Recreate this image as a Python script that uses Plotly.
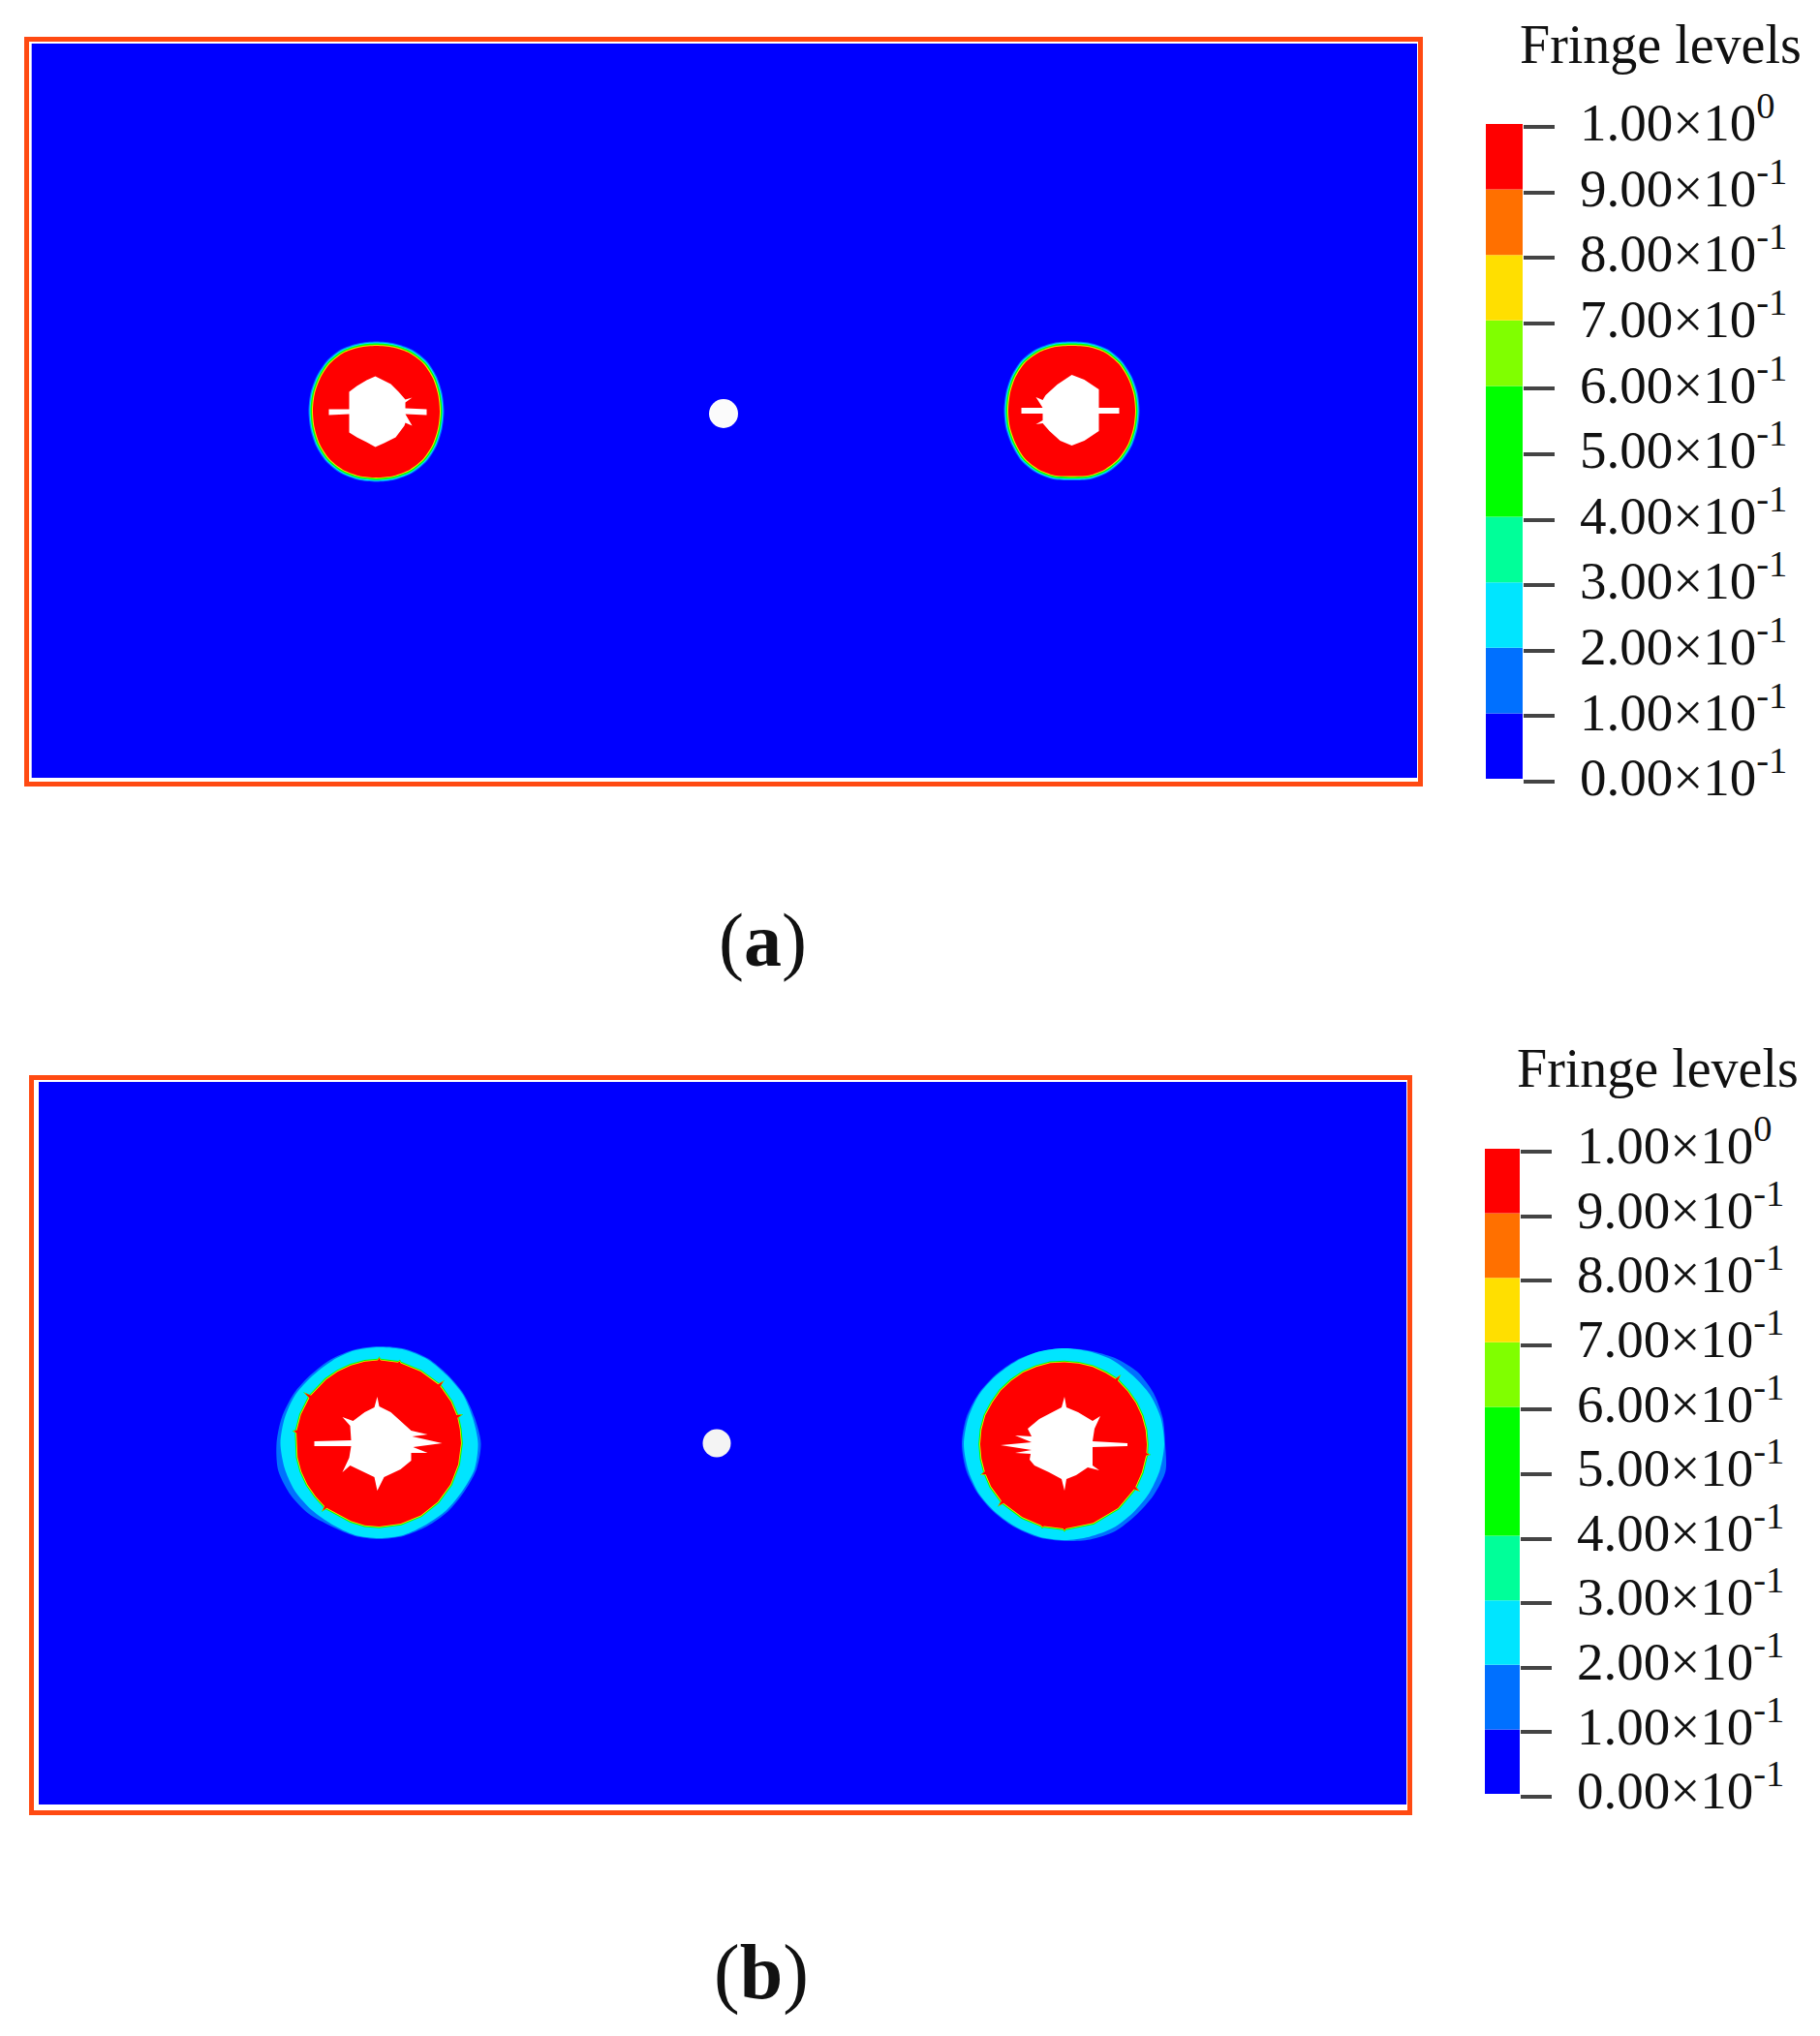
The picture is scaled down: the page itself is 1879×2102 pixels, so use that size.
import math
import plotly.graph_objects as go

W, H = 1879, 2102

# ---------- legend data ----------
levels = [0.0, 0.1, 0.2, 0.3, 0.4, 0.5, 0.6, 0.7, 0.8, 0.9, 1.0]
level_labels = ["0.00×10<sup>-1</sup>", "1.00×10<sup>-1</sup>", "2.00×10<sup>-1</sup>", "3.00×10<sup>-1</sup>",
                "4.00×10<sup>-1</sup>", "5.00×10<sup>-1</sup>", "6.00×10<sup>-1</sup>", "7.00×10<sup>-1</sup>",
                "8.00×10<sup>-1</sup>", "9.00×10<sup>-1</sup>", "1.00×10<sup>0</sup>"]
band_colors = ["#0000ff", "#0070ff", "#00e5ff", "#00ff99", "#00ff00", "#00ff00", "#80ff00", "#ffdf00", "#ff7000", "#ff0000"]

# ---------- ring shapes (polar, image-scale units) ----------
angles_15 = [0, 15, 30, 45, 60, 75, 90, 105, 120, 135, 150, 165, 180, 195, 210, 225, 240, 255, 270, 285, 300, 315, 330, 345]

a_left_centre = (388.5, 424.5)
a_left_red = [65.5, 66, 67.5, 69, 69, 68, 67.5, 68, 69, 68.5, 67, 66, 65.5, 66, 67.5, 69, 69.5, 69, 68.5, 69, 69.5, 69, 67.5, 66]
a_right_centre = (1106.5, 424)
a_right_red = [65.5, 66, 67, 68.5, 69, 68, 67, 68, 69, 69, 67.5, 66, 65.5, 66, 67, 69, 69.5, 69, 67.5, 69, 69.5, 69, 67.5, 66]
a_edge_steps = [4.5, 3.4, 2.4, 1.0]
a_edge_colors = ["#0070ff", "#00e5ff", "#00ff00", "#ffdf00"]

b_left_centre = (391.5, 1490)
b_left_lightblue = [105, 102, 101, 100, 101, 101, 100, 100, 100, 100, 102, 104, 106, 108, 106, 103, 99, 99, 99, 99, 99, 100, 101, 104]
b_left_cyan = [102, 100, 100, 99, 100, 100, 99, 99, 98, 98, 100, 101, 102, 101, 100, 98, 97, 98, 98, 98, 97, 98, 99, 102]
b_left_red_angles = [0, 10, 18, 19, 20, 30, 43, 44, 45, 60, 75, 76, 77, 89, 90, 91, 100, 110, 120, 130, 145, 146, 147, 160, 171, 172, 173, 190, 200, 210, 220, 229, 230, 231, 250, 260, 270, 285, 300, 315, 330, 345]
b_left_red = [84.5, 84.5, 85, 90, 85, 85.5, 86, 92, 86, 85.5, 85.5, 87, 85.5, 85.5, 88, 85.5, 85.5, 85.5, 85.5, 85.5, 86, 93, 86, 86, 86, 89, 86, 85.5, 85.5, 85.5, 85.5, 86, 91, 86, 85.5, 86, 86, 86, 86, 85.5, 85, 84.5]

b_right_centre = (1099, 1491)
b_right_lightblue = [104, 105, 106, 106, 103, 100, 99, 99, 100, 101, 103, 105, 106, 105, 103, 101, 100, 100, 100, 102, 104, 104, 106, 108]
b_right_cyan = [103, 103, 102, 100, 100, 99, 99, 99, 99, 100, 102, 103, 104, 103, 102, 100, 99, 99, 99, 99, 100, 100, 101, 102]
b_right_red_angles = [0, 10, 20, 30, 40, 50, 51, 52, 60, 70, 80, 90, 100, 110, 120, 130, 140, 150, 160, 170, 180, 190, 199, 200, 201, 210, 222, 223, 224, 240, 254, 255, 256, 269, 270, 271, 290, 310, 327, 328, 329, 340, 352, 353, 354]
b_right_red = [85, 85, 85, 85, 85, 85.5, 91, 85.5, 85, 85, 84.5, 84.5, 85, 85, 85.5, 85.5, 86, 86, 87, 87, 87, 87, 87, 91, 87, 87.5, 87.5, 93, 87.5, 87, 87, 88.5, 87, 87, 89, 87, 86.5, 86, 85.5, 90.5, 85.5, 85, 85, 88, 85]
b_edge_steps = [1.8, 0.8]
b_edge_colors = ["#00ff00", "#ffdf00"]

# ---------- damaged holes (offset from ring centre, y down) ----------
a_left_hole_dx = [-1, 7, 15, 23, 30, 37, 30, 30, 52, 52, 30, 37, 30, 29, 20, 8, -1, -10, -20, -28, -28, -49, -49, -28, -28, -20, -10]
a_left_hole_dy = [-36, -32, -28, -20, -12, -14, -9, -3, -2, 4, 3, 15, 12, 15, 27, 33, 37, 32, 27, 22, 3, 4, -2, -2, -20, -26, -32]
a_right_hole_dx = [0, 13, 28, 28, 49, 49, 28, 28, 13, 0, -12, -23, -30, -37, -30, -30, -52, -52, -30, -37, -30, -27, -15, -7]
a_right_hole_dy = [-37, -32, -22, -3, -3, 3, 3, 21, 31, 36, 31, 21, 13, 14, 10, 3, 3, -3, -3, -14, -11, -16, -27, -32]
b_left_hole_dx = [-2, 0, 12, 28, 33, 50, 34, 65, 35, 50, 33, 33, 22, 5, -2, -5, -15, -30, -38, -31, -29, -67, -67, -29, -30, -38, -27, -15, -5]
b_left_hole_dy = [-48, -38, -32, -18, -13, -9, -7, 0, 4, 10, 10, 18, 27, 35, 49, 35, 30, 23, 30, 15, 3, 3, -2, -3, -18, -27, -23, -32, -37]
b_right_hole_dx = [0, 2, 14, 29, 37, 31, 29, 65, 65, 29, 29, 36, 24, 12, 2, 0, -3, -16, -31, -36, -35, -51, -34, -66, -34, -51, -34, -38, -26, -13, -3]
b_right_hole_dy = [-49, -38, -33, -24, -29, -16, -3, -1, 2, 3, 22, 27, 24, 32, 36, 48, 36, 29, 22, 16, 10, 9, 6, 1, -2, -9, -8, -16, -26, -33, -38]

centre_hole_x = [747, 740]
centre_hole_y = [427, 1490]

FONT = "Liberation Serif"
FRAME = "#ff4a12"
BLUE = "#0000ff"
RED = "#ff0000"
WHITE = "#ffffff"
TEXT = "#111111"
fig = go.Figure()


def polar(centre, angles, radii, extra=0.0):
    xs = [centre[0] + (r + extra) * math.cos(math.radians(a)) for a, r in zip(angles, radii)]
    ys = [centre[1] - (r + extra) * math.sin(math.radians(a)) for a, r in zip(angles, radii)]
    return xs + xs[:1], ys + ys[:1]


def poly(xs, ys, color, ax, smooth=False):
    line = dict(width=0, color=color)
    if smooth:
        line.update(shape="spline", smoothing=0.8)
    fig.add_trace(go.Scatter(x=xs, y=ys, mode="lines", fill="toself", fillcolor=color,
                             line=line, hoverinfo="skip", showlegend=False,
                             xaxis="x" + ax, yaxis="y" + ax))


def hole(centre, dx, dy, ax):
    xs = [centre[0] + v for v in dx]
    ys = [centre[1] + v for v in dy]
    poly(xs + xs[:1], ys + ys[:1], WHITE, ax)


def xdom(a, b):
    return [a / W, b / W]


def ydom(top, bottom):
    return [1 - bottom / H, 1 - top / H]


layout = dict(width=W, height=H, autosize=False, margin=dict(l=0, r=0, t=0, b=0, pad=0),
              paper_bgcolor="white", plot_bgcolor="white", barmode="overlay", showlegend=False)


def map_axes(ax, left, right, top, bottom):
    common = dict(showgrid=False, zeroline=False, showticklabels=False, ticks="", automargin=False,
                  showline=True, mirror=True, linecolor=FRAME, linewidth=4.5)
    layout["xaxis" + ax] = dict(common, domain=xdom(left, right), range=[left, right], anchor="y" + ax)
    layout["yaxis" + ax] = dict(common, domain=ydom(top, bottom), range=[bottom, top], anchor="x" + ax)


def bar_axes(ax, left, right, top, bottom, unit_px, label_shift):
    low = -5 / unit_px
    layout["xaxis" + ax] = dict(domain=xdom(left, right), range=[0, 1], visible=False, anchor="y" + ax, automargin=False)
    layout["yaxis" + ax] = dict(domain=ydom(top, bottom + 5), range=[low, 1], anchor="x" + ax, side="right",
                                showgrid=False, zeroline=False, showline=False, automargin=False,
                                tickmode="array", tickvals=[v - 3 / unit_px for v in levels], ticktext=level_labels,
                                ticks="outside", ticklen=32, tickwidth=4, tickcolor="#444444",
                                ticklabelstandoff=15, ticklabelshift=label_shift,
                                tickfont=dict(family=FONT, size=55, color=TEXT))
    bases = levels[:-1]
    heights = [b - a for a, b in zip(levels[:-1], levels[1:])]
    fig.add_trace(go.Bar(x=[0.5] * len(bases), y=heights, base=bases, width=1, marker=dict(color=band_colors, line=dict(width=0)),
                         hoverinfo="skip", showlegend=False, xaxis="x" + ax, yaxis="y" + ax))


# ---------- panel (a) ----------
map_axes("", 30, 1463.5, 42.5, 807)
poly([32.7, 1463, 1463, 32.7, 32.7], [45, 45, 803, 803, 45], BLUE, "")
for centre, radii, dx, dy in [(a_left_centre, a_left_red, a_left_hole_dx, a_left_hole_dy),
                              (a_right_centre, a_right_red, a_right_hole_dx, a_right_hole_dy)]:
    for step, col in zip(a_edge_steps, a_edge_colors):
        xs, ys = polar(centre, angles_15, radii, step)
        poly(xs, ys, col, "", True)
    xs, ys = polar(centre, angles_15, radii)
    poly(xs, ys, RED, "", True)
    hole(centre, dx, dy, "")
fig.add_trace(go.Scatter(x=[centre_hole_x[0]], y=[centre_hole_y[0]], mode="markers", hoverinfo="skip", showlegend=False,
                         marker=dict(size=30, color="#fbfbfb", line=dict(width=0)), xaxis="x", yaxis="y"))
bar_axes("2", 1534, 1572, 128, 804, 676, -5)

# ---------- panel (b) ----------
map_axes("3", 35, 1453, 1115, 1869)
poly([40, 1452, 1452, 40, 40], [1117, 1117, 1863, 1863, 1117], BLUE, "3")
for centre, lb, cy, ang, red, dx, dy in [
    (b_left_centre, b_left_lightblue, b_left_cyan, b_left_red_angles, b_left_red, b_left_hole_dx, b_left_hole_dy),
    (b_right_centre, b_right_lightblue, b_right_cyan, b_right_red_angles, b_right_red, b_right_hole_dx, b_right_hole_dy)]:
    xs, ys = polar(centre, angles_15, lb)
    poly(xs, ys, "#0070ff", "3", True)
    xs, ys = polar(centre, angles_15, cy)
    poly(xs, ys, "#00e5ff", "3", True)
    for step, col in zip(b_edge_steps, b_edge_colors):
        xs, ys = polar(centre, ang, red, step)
        poly(xs, ys, col, "3")
    xs, ys = polar(centre, ang, red)
    poly(xs, ys, RED, "3")
    hole(centre, dx, dy, "3")
fig.add_trace(go.Scatter(x=[centre_hole_x[1]], y=[centre_hole_y[1]], mode="markers", hoverinfo="skip", showlegend=False,
                         marker=dict(size=29, color="#f4f4f4", line=dict(width=0)), xaxis="x3", yaxis="y3"))
bar_axes("4", 1533, 1569, 1186, 1852, 666, -7)


def note(text, x, y, size, anchor="center"):
    return dict(text=text, x=x / W, y=1 - y / H, xref="paper", yref="paper", showarrow=False, xanchor=anchor, yanchor="middle",
                font=dict(family=FONT, size=size, color=TEXT))


layout["annotations"] = [
    note("Fringe levels", 1567, 46, 56, "left"),
    note("Fringe levels", 1564, 1103, 56, "left"),
    note("(<b>a</b>)", 787, 970, 78),
    note("(<b>b</b>)", 786, 2036, 80),
]
fig.update_layout(**layout)
fig.write_html("out.html", config={"displayModeBar": False}, post_script="document.body.style.margin='0';")
